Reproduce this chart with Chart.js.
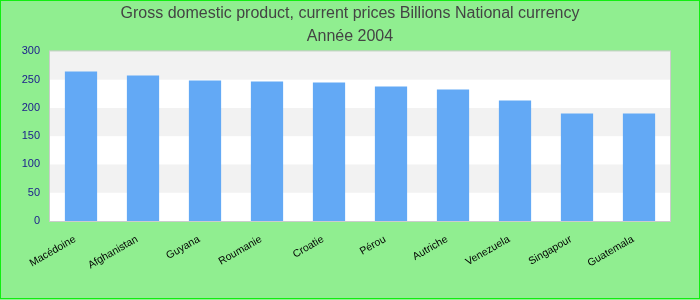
<!DOCTYPE html>
<html>
<head>
<meta charset="utf-8">
<script src="https://cdn.jsdelivr.net/npm/chart.js@4/dist/chart.umd.min.js"></script>
<style>
  html, body { margin: 0; padding: 0; background: #90EE90; }
  #wrap { width: 700px; height: 300px; }
</style>
</head>
<body>
<div id="wrap"><canvas id="canvas" width="700" height="300"></canvas></div>
<script>
// data
const countries = ["Macédoine", "Afghanistan", "Guyana", "Roumanie", "Croatie",
  "Pérou", "Autriche", "Venezuela", "Singapour", "Guatemala"]
const gdpValues = [264.5, 257.5, 248.5, 246.7, 245, 238, 232.5, 213, 190, 190]
const yTicks = [0, 50, 100, 150, 200, 250, 300]
const titleLines = ["Gross domestic product, current prices Billions National currency", "Année 2004"]

// alternating bands + plot frame + outer green border
const decorate = {
    id: "decorate",
    beforeDraw(chart) {
        const ctx = chart.ctx
        const area = chart.chartArea
        const y = chart.scales.y
        ctx.save()
        ctx.fillStyle = "#90EE90"
        ctx.fillRect(0, 0, chart.width, chart.height)
        ctx.fillStyle = "#ffffff"
        ctx.fillRect(area.left, area.top, area.right - area.left, area.bottom - area.top)
        for (let i = 0; i < yTicks.length - 1; i++) {
            if (i % 2 === 1) {
                const top = y.getPixelForValue(yTicks[i + 1])
                const bottom = y.getPixelForValue(yTicks[i])
                ctx.fillStyle = "#f2f2f2"
                ctx.fillRect(area.left, top, area.right - area.left, bottom - top)
            }
        }
        ctx.restore()
    },
    afterDraw(chart) {
        const ctx = chart.ctx
        const area = chart.chartArea
        ctx.save()
        ctx.strokeStyle = "#cccccc"
        ctx.lineWidth = 1
        ctx.strokeRect(area.left - 0.5, area.top - 0.5, area.right - area.left + 1, area.bottom - area.top + 1)
        ctx.strokeStyle = "#11ee11"
        ctx.strokeRect(0.5, 0.5, chart.width - 1, chart.height - 2)
        ctx.restore()
    }
}

const target = document.querySelector("#canvas")
const myBarChart = new Chart(target, {
    type: "bar",
    data: {
        labels: countries,
        datasets: [{
            label: "GDP",
            data: gdpValues,
            backgroundColor: "#63A9F5",
            barPercentage: 0.52,
            categoryPercentage: 1.0
        }]
    },
    options: {
        responsive: false,
        animation: false,
        layout: { padding: { left: 4, right: 4, top: 2, bottom: 0 } },
        plugins: {
            legend: { display: false },
            tooltip: { enabled: false },
            title: {
                display: true,
                text: titleLines,
                color: "#444444",
                font: { family: "'Liberation Sans', Arial, sans-serif", size: 16, weight: "normal", lineHeight: 1.45 },
                padding: { top: 0, bottom: 3 }
            }
        },
        scales: {
            x: {
                grid: { display: false, drawTicks: false },
                border: { display: false },
                ticks: {
                    color: "#000000",
                    font: { family: "'Liberation Sans', Arial, sans-serif", size: 10.5 },
                    minRotation: 30,
                    maxRotation: 30,
                    padding: 12,
                    labelOffset: -6
                },
                afterFit(scale) { scale.height = 79 }
            },
            y: {
                min: 0,
                max: 300,
                grid: { display: false, drawTicks: false },
                border: { display: false },
                ticks: {
                    stepSize: 50,
                    color: "#1a1a8c",
                    font: { family: "'Liberation Sans', Arial, sans-serif", size: 11 },
                    padding: 10
                },
                afterFit(scale) { scale.width = 46 }
            },
            // empty right-hand spacer so the plot stops at the same place as the reference
            spacer: {
                type: "linear",
                position: "right",
                grid: { display: false, drawTicks: false },
                border: { display: false },
                ticks: { display: false },
                afterFit(scale) { scale.width = 26 }
            }
        }
    },
    plugins: [decorate]
})
</script>
</body>
</html>
